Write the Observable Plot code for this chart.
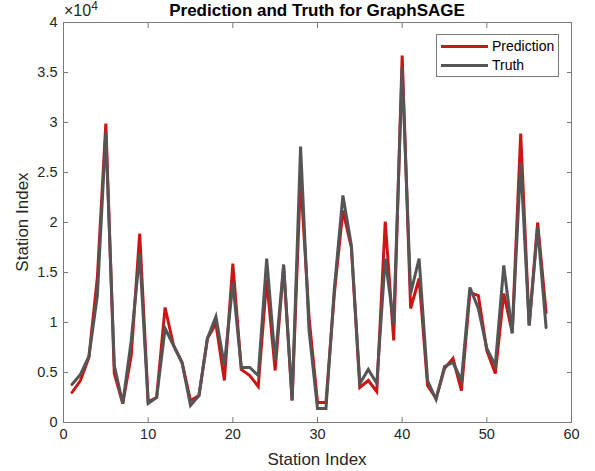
<!DOCTYPE html>
<html><head><meta charset="utf-8">
<script src="https://cdn.jsdelivr.net/npm/d3@7"></script>
<script src="https://cdn.jsdelivr.net/npm/@observablehq/plot@0.6"></script>
<style>
body{margin:0;background:#fff;}
#wrap{position:relative;width:595px;height:471px;font-family:"Liberation Sans",Arial,Helvetica,sans-serif;color:#262626;}
#wrap svg{position:absolute;left:0;top:0;}
.ov{position:absolute;white-space:nowrap;}
</style>
</head><body><div id="wrap"></div>
<script>
const station = d3.range(1, 58);
const prediction = [3000,4200,6500,14500,29900,4900,1900,6700,18900,2100,
  2500,11500,7700,6000,2200,2700,8400,9900,4200,15900,
  5300,4700,3600,14300,5200,15600,2200,24500,10500,2000,
  2000,13000,21200,17500,3500,4200,3100,20100,8200,36700,
  11400,14400,3700,2400,5400,6400,3200,13000,12700,7200,
  4900,12900,9000,28900,9700,20000,11000];
const truth = [3800,4800,6600,12700,29000,5700,1900,8200,16900,1900,
  2500,9400,7700,6000,1700,2700,8400,10600,5700,14000,
  5500,5500,4700,16400,6200,15800,2200,27600,9200,1400,
  1400,13500,22700,17700,3900,5300,3900,16400,9900,35500,
  12900,16400,4200,2300,5600,6000,4200,13500,11400,7400,
  5700,15700,8900,26000,9700,19500,9500];
const xTicks = [0,10,20,30,40,50,60];
const yTicks = [0,5000,10000,15000,20000,25000,30000,35000,40000];
const seriesNames = ["Prediction","Truth"];
const seriesColors = ["#cc1616","#555555"];
const titleText = "Prediction and Truth for GraphSAGE";
const xLabel = "Station Index";
const yLabel = "Station Index";

const axisColor = "#7a7a7a";
const plot = Plot.plot({
  width: 595, height: 471,
  marginLeft: 63, marginRight: 24, marginTop: 22, marginBottom: 49,
  style: {fontFamily: '"Liberation Sans",Arial,sans-serif', fontSize: "14.5px", color: "#262626", background: "transparent", overflow: "visible"},
  x: {domain: [0, 60]},
  y: {domain: [0, 40000]},
  marks: [
    Plot.frame({stroke: axisColor, strokeWidth: 1}),
    Plot.axisX(xTicks, {anchor: "bottom", tickSize: -5, tickPadding: 11, stroke: axisColor, fill: "#262626", fontSize: 14.5, label: null}),
    Plot.axisX(xTicks, {anchor: "top", tickSize: -5, tickFormat: () => "", stroke: axisColor, label: null}),
    Plot.axisY(yTicks, {anchor: "left", tickSize: -5, tickPadding: 11, stroke: axisColor, fill: "#262626", fontSize: 14.5, tickFormat: d => String(d / 1e4), label: null}),
    Plot.axisY(yTicks, {anchor: "right", tickSize: -5, tickFormat: () => "", stroke: axisColor, label: null}),
    Plot.line(station, {x: station, y: prediction, stroke: seriesColors[0], strokeWidth: 3, strokeLinejoin: "miter", strokeMiterlimit: 4}),
    Plot.line(station, {x: station, y: truth, stroke: seriesColors[1], strokeWidth: 3, strokeLinejoin: "miter", strokeMiterlimit: 4})
  ]
});
const wrap = document.getElementById("wrap");
wrap.appendChild(plot);

function ov(html, css) {
  const d = document.createElement("div");
  d.className = "ov";
  d.innerHTML = html;
  Object.assign(d.style, css);
  wrap.appendChild(d);
  return d;
}
// title
ov(titleText, {left: "0px", width: "634px", textAlign: "center", top: "1px", fontSize: "17px", fontWeight: "bold", color: "#000", lineHeight: "20px"});
// exponent
ov('×10<span style="font-size:12px;position:absolute;top:-5px;">4</span>', {left: "64px", top: "2px", fontSize: "16px", lineHeight: "18px", color: "#262626"});
// x label
ov(xLabel, {left: "0px", width: "634px", textAlign: "center", top: "450px", fontSize: "17px", lineHeight: "19px", color: "#262626"});
// y label
ov(yLabel, {left: "22px", top: "222px", fontSize: "17px", lineHeight: "19px", color: "#262626", transform: "translate(-50%,-50%) rotate(-90deg)"});
// legend
const leg = ov("", {left: "436px", top: "34px", width: "121px", height: "41px", border: "1px solid " + axisColor, background: "#fff"});
seriesNames.forEach((name, i) => {
  const row = document.createElement("div");
  Object.assign(row.style, {position: "absolute", left: "4px", top: (i === 0 ? 2 : 21) + "px", height: "18px", display: "flex", alignItems: "center"});
  row.innerHTML = `<span style="display:inline-block;width:47px;height:3px;background:${seriesColors[i]};margin-right:4px;"></span><span style="font-size:14px;color:#000;">${name}</span>`;
  leg.appendChild(row);
});
</script>
</body></html>
